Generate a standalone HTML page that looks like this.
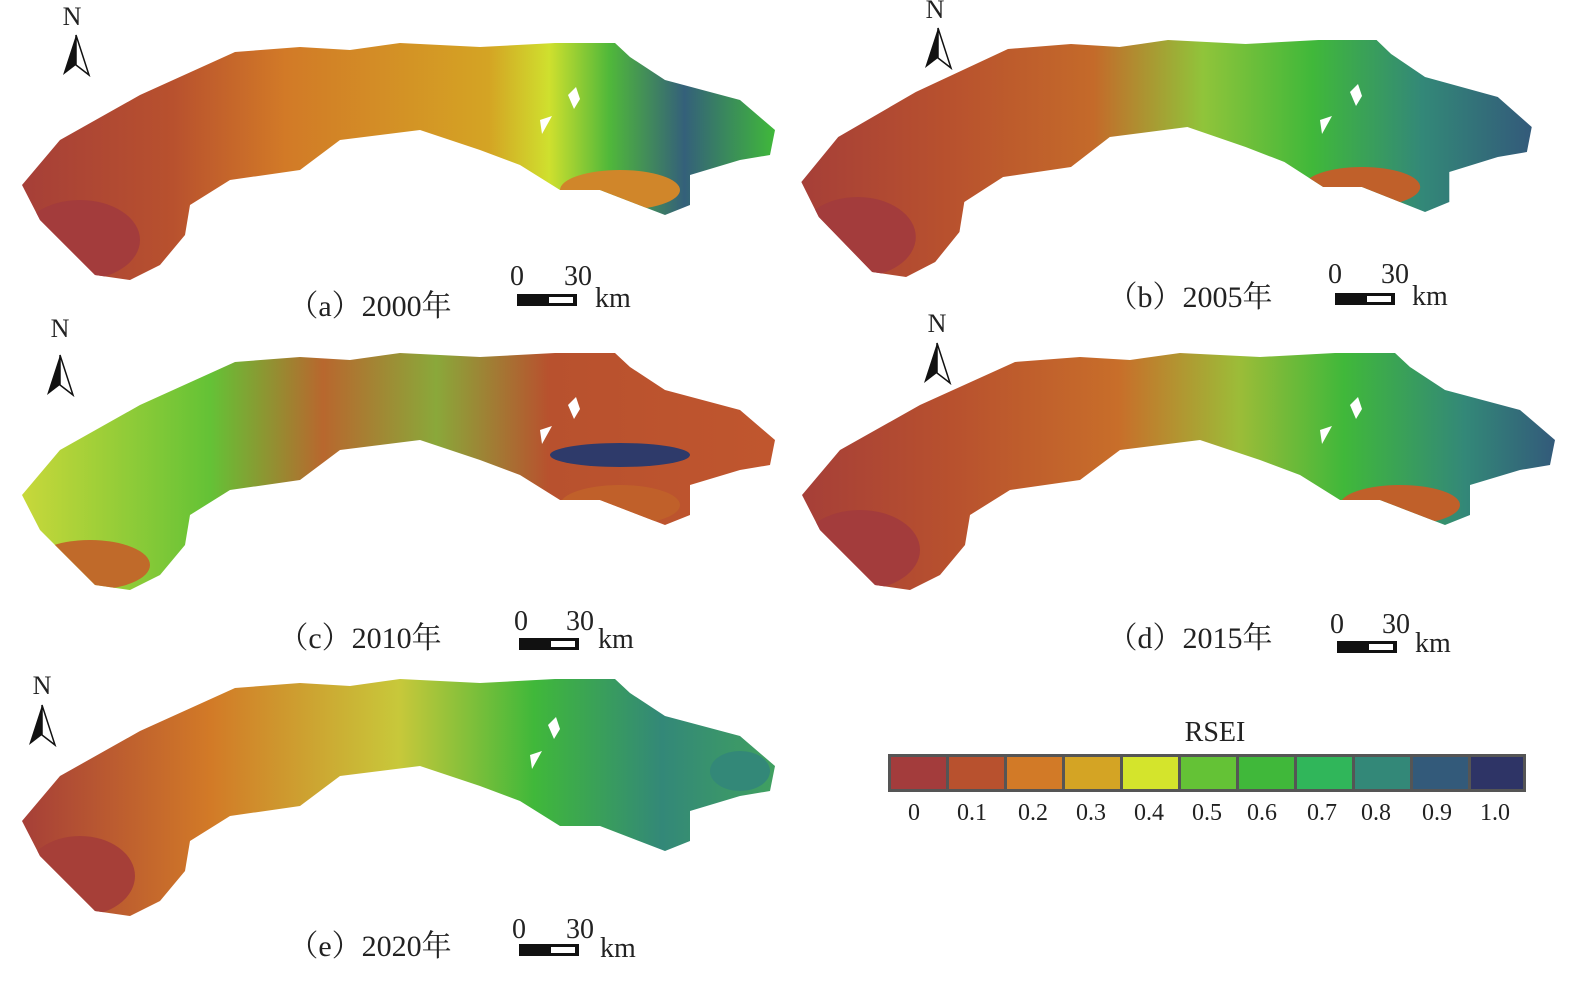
<!DOCTYPE html>
<html><head><meta charset="utf-8"><style>
html,body{margin:0;padding:0;background:#fff;}
svg{display:block;}
text{font-family:"Liberation Serif","Noto Serif CJK SC",serif;fill:#222;}
</style></head><body>
<svg width="1592" height="997" viewBox="0 0 1592 997" xmlns="http://www.w3.org/2000/svg">
<defs>
<path id="shp" d="M235,52 L300,47 L350,50 L400,43 L480,47 L555,43 L615,43 L630,57 L665,80 L740,100 L775,130 L770,155 L740,160 L690,175 L690,205 L665,215 L600,190 L560,190 L520,165 L480,150 L420,130 L340,140 L300,170 L230,180 L190,205 L185,235 L160,265 L130,280 L95,275 L40,220 L22,185 L60,140 L140,95 Z"/>
<clipPath id="cp"><use href="#shp"/></clipPath>
<linearGradient id="ga" x1="0" x2="1" y1="0" y2="0">
<stop offset="0" stop-color="#a63f38"/><stop offset="0.2" stop-color="#b8512e"/><stop offset="0.35" stop-color="#d27a27"/><stop offset="0.62" stop-color="#d4a424"/><stop offset="0.7" stop-color="#cfe02e"/><stop offset="0.78" stop-color="#50b83a"/><stop offset="0.88" stop-color="#34607a"/><stop offset="1" stop-color="#40b83a"/></linearGradient>
<linearGradient id="gb" x1="0" x2="1" y1="0" y2="0">
<stop offset="0" stop-color="#a63f38"/><stop offset="0.2" stop-color="#b8512e"/><stop offset="0.4" stop-color="#c46a2a"/><stop offset="0.55" stop-color="#90c43a"/><stop offset="0.7" stop-color="#40b83a"/><stop offset="0.85" stop-color="#338878"/><stop offset="1" stop-color="#335a7a"/></linearGradient>
<linearGradient id="gc" x1="0" x2="1" y1="0" y2="0">
<stop offset="0" stop-color="#c8d83a"/><stop offset="0.25" stop-color="#64c236"/><stop offset="0.4" stop-color="#b8672e"/><stop offset="0.55" stop-color="#8aa83a"/><stop offset="0.7" stop-color="#b8512e"/><stop offset="1" stop-color="#c0562e"/></linearGradient>
<linearGradient id="gd" x1="0" x2="1" y1="0" y2="0">
<stop offset="0" stop-color="#a63f38"/><stop offset="0.2" stop-color="#b8512e"/><stop offset="0.42" stop-color="#c86e2a"/><stop offset="0.58" stop-color="#9cbc38"/><stop offset="0.72" stop-color="#40b83a"/><stop offset="0.88" stop-color="#338878"/><stop offset="1" stop-color="#335a7a"/></linearGradient>
<linearGradient id="ge" x1="0" x2="1" y1="0" y2="0">
<stop offset="0" stop-color="#a63f38"/><stop offset="0.25" stop-color="#d27a27"/><stop offset="0.5" stop-color="#c8c83a"/><stop offset="0.68" stop-color="#40b83a"/><stop offset="0.85" stop-color="#338878"/><stop offset="1" stop-color="#40a060"/></linearGradient>
<g id="arrow"><polygon points="0,0 -13,40 0,30" fill="#111"/><polygon points="0,0 13,40 0,30" fill="#fff" stroke="#111" stroke-width="1.5"/></g>
<g id="bar"><rect x="0" y="0" width="60" height="12" fill="#111"/><rect x="32" y="3" width="24" height="6" fill="#fff"/></g>
</defs>

<!-- panel a -->
<g><use href="#shp" fill="url(#ga)"/>
<g clip-path="url(#cp)"><ellipse cx="620" cy="190" rx="60" ry="20" fill="#d0862a"/><ellipse cx="80" cy="240" rx="60" ry="40" fill="#a33c3c"/></g></g>
<!-- panel b -->
<g transform="translate(780,-3) scale(0.97,1)"><use href="#shp" fill="url(#gb)"/>
<g clip-path="url(#cp)"><ellipse cx="600" cy="190" rx="60" ry="20" fill="#c0602a"/><ellipse cx="80" cy="240" rx="60" ry="40" fill="#a33c3c"/></g></g>
<!-- panel c -->
<g transform="translate(0,310)"><use href="#shp" fill="url(#gc)"/>
<g clip-path="url(#cp)"><ellipse cx="620" cy="145" rx="70" ry="12" fill="#2e3a6a"/><ellipse cx="90" cy="255" rx="60" ry="25" fill="#c06a2a"/><ellipse cx="620" cy="195" rx="60" ry="20" fill="#c0602a"/></g></g>
<!-- panel d -->
<g transform="translate(780,310)"><use href="#shp" fill="url(#gd)"/>
<g clip-path="url(#cp)"><ellipse cx="620" cy="195" rx="60" ry="20" fill="#c0602a"/><ellipse cx="80" cy="240" rx="60" ry="40" fill="#a33c3c"/></g></g>
<!-- panel e -->
<g transform="translate(0,636)"><use href="#shp" fill="url(#ge)"/>
<g clip-path="url(#cp)"><ellipse cx="80" cy="240" rx="55" ry="40" fill="#a63f38"/><ellipse cx="740" cy="135" rx="30" ry="20" fill="#338878"/></g></g>

<!-- white lakes -->
<path d="M568,95 l8,-8 l4,12 l-6,10 z M540,120 l12,-4 l-10,18 z" fill="#fff"/>
<path d="M1350,92 l8,-8 l4,12 l-6,10 z M1320,120 l12,-4 l-10,18 z" fill="#fff"/>
<path d="M568,405 l8,-8 l4,12 l-6,10 z M540,430 l12,-4 l-10,18 z" fill="#fff"/>
<path d="M1350,405 l8,-8 l4,12 l-6,10 z M1320,430 l12,-4 l-10,18 z" fill="#fff"/>
<path d="M548,725 l8,-8 l4,12 l-6,10 z M530,755 l12,-4 l-10,18 z" fill="#fff"/>

<!-- north arrows -->
<text x="72" y="25" font-size="26" text-anchor="middle">N</text><use href="#arrow" x="76" y="35"/>
<text x="935" y="18" font-size="26" text-anchor="middle">N</text><use href="#arrow" x="938" y="28"/>
<text x="60" y="337" font-size="26" text-anchor="middle">N</text><use href="#arrow" x="60" y="355"/>
<text x="937" y="332" font-size="26" text-anchor="middle">N</text><use href="#arrow" x="937" y="343"/>
<text x="42" y="694" font-size="26" text-anchor="middle">N</text><use href="#arrow" x="42" y="705"/>

<!-- labels & scale bars -->
<text x="370" y="316" font-size="30" text-anchor="middle">（a）2000年</text>
<text x="517" y="285" font-size="28" text-anchor="middle">0</text><text x="578" y="285" font-size="28" text-anchor="middle">30</text><use href="#bar" x="517" y="294"/><text x="595" y="307" font-size="28">km</text>
<text x="1190" y="307" font-size="30" text-anchor="middle">（b）2005年</text>
<text x="1335" y="283" font-size="28" text-anchor="middle">0</text><text x="1395" y="283" font-size="28" text-anchor="middle">30</text><use href="#bar" x="1335" y="293"/><text x="1412" y="305" font-size="28">km</text>
<text x="360" y="648" font-size="30" text-anchor="middle">（c）2010年</text>
<text x="521" y="630" font-size="28" text-anchor="middle">0</text><text x="580" y="630" font-size="28" text-anchor="middle">30</text><use href="#bar" x="519" y="638"/><text x="598" y="648" font-size="28">km</text>
<text x="1190" y="648" font-size="30" text-anchor="middle">（d）2015年</text>
<text x="1337" y="633" font-size="28" text-anchor="middle">0</text><text x="1396" y="633" font-size="28" text-anchor="middle">30</text><use href="#bar" x="1337" y="641"/><text x="1415" y="652" font-size="28">km</text>
<text x="370" y="956" font-size="30" text-anchor="middle">（e）2020年</text>
<text x="519" y="938" font-size="28" text-anchor="middle">0</text><text x="580" y="938" font-size="28" text-anchor="middle">30</text><use href="#bar" x="519" y="944"/><text x="600" y="957" font-size="28">km</text>

<!-- legend -->
<text x="1215" y="741" font-size="28" text-anchor="middle">RSEI</text>
<rect x="888" y="754" width="638" height="38" fill="#555"/>
<g>
<rect x="891" y="757" width="55" height="32" fill="#a33c3c"/>
<rect x="949" y="757" width="55" height="32" fill="#b8512e"/>
<rect x="1007" y="757" width="55" height="32" fill="#d27a27"/>
<rect x="1065" y="757" width="55" height="32" fill="#d4a424"/>
<rect x="1123" y="757" width="55" height="32" fill="#d4e42c"/>
<rect x="1181" y="757" width="55" height="32" fill="#64c236"/>
<rect x="1239" y="757" width="55" height="32" fill="#40b83a"/>
<rect x="1297" y="757" width="55" height="32" fill="#30b65a"/>
<rect x="1355" y="757" width="55" height="32" fill="#338878"/>
<rect x="1413" y="757" width="55" height="32" fill="#335a7a"/>
<rect x="1471" y="757" width="52" height="32" fill="#2e3466"/>
</g>
<g font-size="24" text-anchor="middle">
<text x="914" y="820">0</text><text x="972" y="820">0.1</text><text x="1033" y="820">0.2</text><text x="1091" y="820">0.3</text><text x="1149" y="820">0.4</text><text x="1207" y="820">0.5</text><text x="1262" y="820">0.6</text><text x="1322" y="820">0.7</text><text x="1376" y="820">0.8</text><text x="1437" y="820">0.9</text><text x="1495" y="820">1.0</text>
</g>
</svg>
</body></html>
